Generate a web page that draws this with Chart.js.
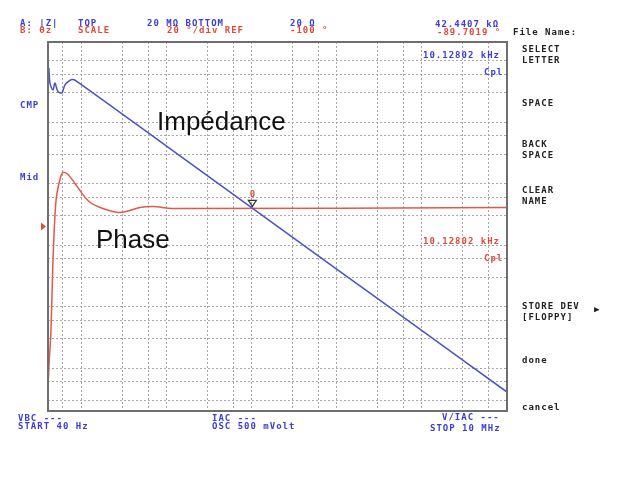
<!DOCTYPE html>
<html>
<head>
<meta charset="utf-8">
<script src="https://cdn.jsdelivr.net/npm/chart.js@4.4.1/dist/chart.umd.min.js"></script>
<style>
  body { margin: 0; background: #fff; }
  #wrap { position: relative; width: 637px; height: 480px; }
</style>
</head>
<body>
<div id="wrap"><canvas id="scope" width="637" height="480"></canvas></div>
<script>
// Trace A: |Z| (ohm) versus frequency (Hz)
const freqZ = [41, 42.2, 45.8, 48.3, 52.5, 58.5, 63.1, 68.6, 76.1, 83, 1000, 10000, 100000, 1000000, 10000000];
const impedance = [7.55e6, 4.3e6, 3.3e6, 4.3e6, 3.1e6, 3.0e6, 4.0e6, 4.5e6, 4.9e6, 4.8e6, 401000, 40300, 4030, 406, 40.7];

// Trace B: phase (degrees) versus frequency (Hz)
const freqP = [40.5, 41.1, 43.4, 45.8, 49.7, 55.6, 60.1, 68.8, 83.1, 118, 164, 281, 484, 686, 1184, 10000000];
const phase = [-182, -175, -156, -118, -86, -74, -70.7, -71.8, -76.7, -85.9, -89.7, -92.4, -89.7, -89.2, -90.2, -89.7];

// grid lines of the instrument (1, 3, 6 per decade)
const freqGrid = [60, 100, 300, 600, 1e3, 3e3, 6e3, 1e4, 3e4, 6e4, 1e5, 3e5, 6e5, 1e6, 3e6, 6e6];
const zGrid = [30, 60, 100, 300, 600, 1e3, 3e3, 6e3, 1e4, 3e4, 6e4, 1e5, 3e5, 6e5, 1e6, 3e6, 6e6, 1e7];

// marker 0
const markerFreq = 10128.02;
const markerZ = 42440.7;

const BLUE = "#3c3cd8";
const RED = "#e04a3a";
const MONO = "bold 9px 'DejaVu Sans Mono'";

const labels = [
  // header
  ["A: |Z|", 20, 19, BLUE], ["TOP", 78, 19, BLUE], ["20 M\u03a9 BOTTOM", 147, 19, BLUE], ["20 \u03a9", 290, 19, BLUE],
  ["B: \u03b8z", 20, 26, RED], ["SCALE", 78, 26, RED], ["20 \u00b0/div REF", 167, 26, RED], ["-100 \u00b0", 290, 26, RED],
  ["42.4407 k\u03a9", 435, 20, BLUE], ["-89.7019 \u00b0", 437, 28, RED],
  ["File Name:", 513, 28, "#222"],
  // inside the grid
  ["10.12802 kHz", 423, 51, BLUE], ["Cpl", 484, 68, BLUE],
  ["10.12802 kHz", 423, 237, RED], ["Cpl", 484, 254, RED],
  // left
  ["CMP", 20, 101, BLUE], ["Mid", 20, 173, BLUE],
  // softkeys
  ["SELECT", 522, 45, "#222"], ["LETTER", 522, 56, "#222"],
  ["SPACE", 522, 99, "#222"],
  ["BACK", 522, 140, "#222"], ["SPACE", 522, 151, "#222"],
  ["CLEAR", 522, 186, "#222"], ["NAME", 522, 197, "#222"],
  ["STORE DEV", 522, 302, "#222"], ["\u25b6", 594, 305, "#222"], ["[FLOPPY]", 522, 313, "#222"],
  ["done", 522, 356, "#222"], ["cancel", 522, 403, "#222"],
  // footer
  ["VBC ---", 18, 414, BLUE], ["START 40 Hz", 18, 422, BLUE],
  ["IAC ---", 212, 414, BLUE], ["OSC 500 mVolt", 212, 422, BLUE],
  ["V/IAC ---", 442, 413, BLUE], ["STOP 10 MHz", 430, 424, BLUE]
];

const screenPlugin = {
  id: "screen",
  afterDatasetsDraw(chart) {
    const { ctx, chartArea: a, scales } = chart;
    ctx.save();
    // frame
    ctx.strokeStyle = "#6e6e6e";
    ctx.lineWidth = 2;
    ctx.strokeRect(a.left, a.top, a.right - a.left, a.bottom - a.top);

    // reference arrow for phase
    const yRef = scales.yP.getPixelForValue(-100);
    ctx.fillStyle = RED;
    ctx.beginPath();
    ctx.moveTo(a.left - 7, yRef - 4);
    ctx.lineTo(a.left - 2, yRef);
    ctx.lineTo(a.left - 7, yRef + 4);
    ctx.closePath();
    ctx.fill();

    // marker 0
    const mx = scales.x.getPixelForValue(markerFreq);
    const my = scales.yZ.getPixelForValue(markerZ);
    ctx.strokeStyle = "#333";
    ctx.lineWidth = 1.2;
    ctx.beginPath();
    ctx.moveTo(mx - 4, my - 6);
    ctx.lineTo(mx + 4, my - 6);
    ctx.lineTo(mx, my);
    ctx.closePath();
    ctx.stroke();
    ctx.fillStyle = RED;
    ctx.font = MONO;
    ctx.textAlign = "center";
    ctx.textBaseline = "top";
    ctx.fillText("0", mx, my - 16);

    // instrument annotations
    ctx.textAlign = "left";
    ctx.letterSpacing = "1px";
    labels.forEach(([t, x, y, c]) => {
      ctx.fillStyle = c;
      ctx.fillText(t, x, y);
    });
    ctx.letterSpacing = "0px";

    // trace names
    ctx.fillStyle = "#111";
    ctx.font = "26px 'Liberation Sans'";
    ctx.fillText("Imp\u00e9dance", 157, 110);
    ctx.fillText("Phase", 96, 228);
    ctx.restore();
  }
};

function gridFrom(values) {
  return (scale) => { scale.ticks = values.map((v) => ({ value: v })); };
}

new Chart(document.getElementById("scope"), {
  type: "line",
  data: {
    datasets: [
      {
        label: "|Z|",
        data: freqZ.map((f, i) => ({ x: f, y: impedance[i] })),
        yAxisID: "yZ",
        borderColor: "#4b52c4",
        borderWidth: 1.5,
        pointRadius: 0,
        tension: 0.3,
      },
      {
        label: "\u03b8z",
        data: freqP.map((f, i) => ({ x: f, y: phase[i] })),
        yAxisID: "yP",
        borderColor: "#e2584a",
        borderWidth: 1.5,
        pointRadius: 0,
        tension: 0.3,
      },
    ],
  },
  options: {
    responsive: false,
    animation: false,
    devicePixelRatio: 1,
    layout: { padding: { left: 48, right: 130, top: 42, bottom: 69 } },
    plugins: { legend: { display: false }, tooltip: { enabled: false } },
    scales: {
      x: {
        type: "logarithmic",
        min: 40,
        max: 1e7,
        afterBuildTicks: gridFrom(freqGrid),
        ticks: { display: false },
        grid: { color: "#a8a8a8", drawTicks: false },
        border: { display: false, dash: [2, 2] },
      },
      yZ: {
        type: "logarithmic",
        position: "left",
        min: 20,
        max: 2e7,
        afterBuildTicks: gridFrom(zGrid),
        ticks: { display: false },
        grid: { color: "#a8a8a8", drawTicks: false },
        border: { display: false, dash: [2, 2] },
      },
      yP: {
        type: "linear",
        display: false,
        min: -200,
        max: 0,
      },
    },
  },
  plugins: [screenPlugin],
});
</script>
</body>
</html>
